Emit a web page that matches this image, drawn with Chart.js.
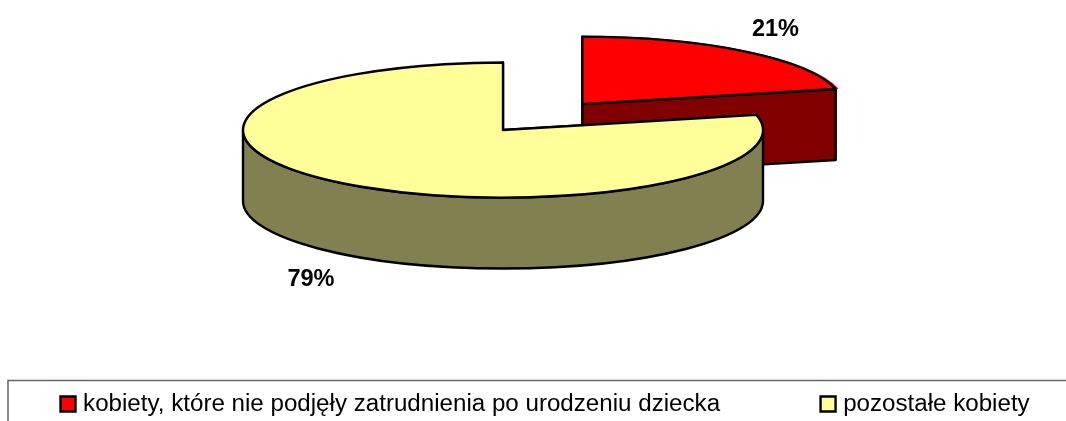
<!DOCTYPE html>
<html><head><meta charset="utf-8">
<script src="https://cdn.jsdelivr.net/npm/chart.js@4"></script>
<style>html,body{margin:0;padding:0;background:#fff;overflow:hidden;width:1066px;height:421px}
#wrap{position:absolute;left:-40px;top:0}
canvas{display:block}</style></head>
<body><div id="wrap"><canvas id="c" width="1220" height="421"></canvas></div>
<script>
const categories = ['kobiety, które nie podjęły zatrudnienia po urodzeniu dziecka', 'pozostałe kobiety'];
const values = [21.4, 78.6];
const percentLabels = ['21%', '79%'];
const topColors = ['#FF0000', '#FFFF99'];
const wallColors = ['#800000', '#808050'];

const SHIFT = 40;            // canvas starts left of the window so the wide legend fits
const UNIT_R = 100, ARC_OFFSET = [196, 0];   // Chart.js draws an arc's offset at one quarter
const CX = 503 + SHIFT, CY = 130, RX = 260, RY = 67.5, DEPTH = 71;
const LABEL_POS = [[775.5, 30], [311, 280]];
const SX = RX / UNIT_R, SY = RY / UNIT_R;

function applyView(ctx, arc) {
  ctx.translate(CX, CY);
  ctx.scale(SX, SY);
  ctx.translate(-arc.x, -arc.y);
}
function sliceShift(arc, i) {
  const mid = (arc.startAngle + arc.endAngle) / 2;
  return [Math.cos(mid) * ARC_OFFSET[i] / 4, Math.sin(mid) * ARC_OFFSET[i] / 4];
}
function strokeNow(ctx) {
  ctx.lineWidth = 2.4; ctx.strokeStyle = '#000'; ctx.lineJoin = 'round'; ctx.stroke();
}
const pie3d = {
  id: 'pie3d',
  beforeDraw(chart) {
    const ctx = chart.ctx;
    ctx.save();
    ctx.strokeStyle = '#666'; ctx.lineWidth = 1.5;
    ctx.strokeRect(8 + SHIFT, 380.5, chart.width, 80);
    ctx.restore();
  },
  beforeDatasetsDraw(chart) {
    const ctx = chart.ctx, arcs = chart.getDatasetMeta(0).data;
    const d = DEPTH / SY;
    arcs.forEach((arc, i) => {
      const [ox, oy] = sliceShift(arc, i);
      const px = arc.x + ox, py = arc.y + oy, r = arc.outerRadius;
      const face = a => {
        ctx.save(); applyView(ctx, arc); ctx.beginPath();
        ctx.moveTo(px, py);
        ctx.lineTo(px + Math.cos(a) * r, py + Math.sin(a) * r);
        ctx.lineTo(px + Math.cos(a) * r, py + Math.sin(a) * r + d);
        ctx.lineTo(px, py + d);
        ctx.closePath(); ctx.restore();
        ctx.fillStyle = wallColors[i]; ctx.fill(); strokeNow(ctx);
      };
      face(arc.startAngle); face(arc.endAngle);
      const a1 = Math.max(arc.startAngle, 0), a2 = Math.min(arc.endAngle, Math.PI);
      if (a2 > a1) {
        ctx.save(); applyView(ctx, arc); ctx.beginPath();
        ctx.arc(px, py, r, a1, a2);
        ctx.arc(px, py + d, r, a2, a1, true);
        ctx.closePath(); ctx.restore();
        ctx.fillStyle = wallColors[i]; ctx.fill(); strokeNow(ctx);
      }
    });
    ctx.save();
    applyView(ctx, arcs[0]);
  },
  afterDatasetsDraw(chart) {
    const ctx = chart.ctx, arcs = chart.getDatasetMeta(0).data;
    ctx.restore();
    arcs.forEach((arc, i) => {
      const [ox, oy] = sliceShift(arc, i);
      const px = arc.x + ox, py = arc.y + oy;
      ctx.save(); applyView(ctx, arc); ctx.beginPath();
      ctx.moveTo(px, py);
      ctx.arc(px, py, arc.outerRadius, arc.startAngle, arc.endAngle);
      ctx.closePath(); ctx.restore();
      strokeNow(ctx);
    });
    ctx.save();
    ctx.font = 'bold 23.5px "Liberation Sans"';
    ctx.fillStyle = '#000'; ctx.textAlign = 'center'; ctx.textBaseline = 'middle';
    percentLabels.forEach((t, i) => ctx.fillText(t, LABEL_POS[i][0] + SHIFT, LABEL_POS[i][1]));
    ctx.restore();
  }
};
new Chart(document.getElementById('c'), {
  type: 'pie',
  data: { labels: categories, datasets: [{
    data: values, backgroundColor: topColors, borderWidth: 0, offset: ARC_OFFSET, clip: false
  }]},
  options: {
    responsive: false, animation: false, radius: UNIT_R,
    layout: { padding: { bottom: -5 } },
    plugins: {
      tooltip: { enabled: false },
      legend: {
        position: 'bottom', align: 'start',
        labels: {
          color: '#000', padding: 105, boxWidth: 6, boxHeight: 15, usePointStyle: true, pointStyle: 'rect',
          font: { family: '"Liberation Sans"', size: 24.15 },
          generateLabels: () => categories.map((text, i) => ({
            text, fillStyle: topColors[i], strokeStyle: '#000', lineWidth: 2.4, pointStyle: 'rect', index: i, hidden: false
          }))
        }
      }
    }
  },
  plugins: [pie3d]
});
</script></body></html>
